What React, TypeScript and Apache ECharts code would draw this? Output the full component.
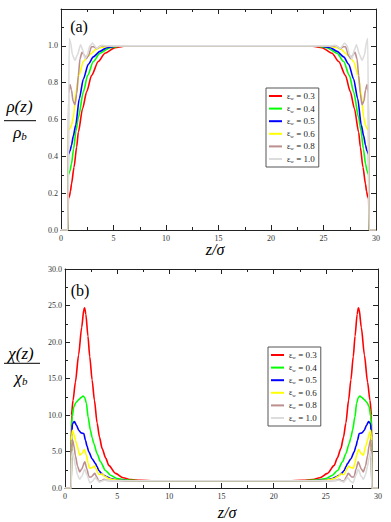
import React, { useEffect, useRef } from "react";
import * as echarts from "echarts";

const FONT = "'Liberation Serif', 'Times New Roman', Times, serif";

const legendNames = ["εw = 0.3", "εw = 0.4", "εw = 0.5", "εw = 0.6", "εw = 0.8", "εw = 1.0"];
const colors = ["#ff0000", "#00ff00", "#0000ff", "#ffff00", "#bc8f8f", "#dcdcdc"];

const xTickValues = [0, 5, 10, 15, 20, 25, 30];
const rhoTickLabels = ["0.0", "0.2", "0.4", "0.6", "0.8", "1.0"];
const chiTickLabels = ["0.0", "5.0", "10.0", "15.0", "20.0", "25.0", "30.0"];

// panel (a): rho(z)/rho_b, [z/sigma, value]
const rho03 = [[0,0],[0.66,0],[0.7,0.17],[0.79,0.18],[0.9,0.21],[1.0,0.25],[1.24,0.34],[1.49,0.45],[1.65,0.53],[2.06,0.66],[2.44,0.75],[2.92,0.84],[3.55,0.915],[4.19,0.96],[5.14,0.99],[6,0.998],[7,1.0],
  [23,1.0],[24,0.998],[24.86,0.99],[25.81,0.96],[26.45,0.915],[27.08,0.84],[27.56,0.75],[27.94,0.66],[28.35,0.53],[28.51,0.45],[28.76,0.34],[29.0,0.25],[29.1,0.21],[29.21,0.18],[29.3,0.17],[29.34,0],[30,0]];
const rho04 = [[0,0],[0.66,0],[0.7,0.30],[0.85,0.32],[1.0,0.36],[1.2,0.44],[1.43,0.54],[1.65,0.61],[2.13,0.75],[2.54,0.84],[3.08,0.915],[3.71,0.96],[4.67,0.99],[5.5,0.998],[6.5,1.0],
  [23.5,1.0],[24.5,0.998],[25.33,0.99],[26.29,0.96],[26.92,0.915],[27.46,0.84],[27.87,0.75],[28.35,0.61],[28.57,0.54],[28.8,0.44],[29.0,0.36],[29.15,0.32],[29.3,0.30],[29.34,0],[30,0]];
const rho05 = [[0,0],[0.66,0],[0.7,0.41],[0.86,0.43],[1.0,0.46],[1.17,0.51],[1.4,0.57],[1.75,0.715],[2.13,0.82],[2.6,0.90],[3.08,0.94],[3.71,0.97],[4.35,0.99],[5.2,0.998],[6,1.0],
  [24,1.0],[24.8,0.998],[25.65,0.99],[26.29,0.97],[26.92,0.94],[27.4,0.90],[27.87,0.82],[28.25,0.715],[28.6,0.57],[28.83,0.51],[29.0,0.46],[29.14,0.43],[29.3,0.41],[29.34,0],[30,0]];
const rho06 = [[0,0],[0.66,0],[0.7,0.54],[0.85,0.55],[1.0,0.57],[1.17,0.61],[1.43,0.75],[1.71,0.84],[2.13,0.915],[2.38,0.93],[2.6,0.945],[2.92,0.96],[3.3,0.98],[3.71,0.99],[4.5,0.998],[5.5,1.0],
  [24.5,1.0],[25.5,0.998],[26.29,0.99],[26.7,0.98],[27.08,0.96],[27.4,0.945],[27.62,0.93],[27.87,0.915],[28.29,0.84],[28.57,0.75],[28.83,0.61],[29.0,0.57],[29.15,0.55],[29.3,0.54],[29.34,0],[30,0]];
const rho08 = [[0,0],[0.66,0],[0.72,0.74],[0.85,0.79],[1.0,0.76],[1.15,0.70],[1.33,0.68],[1.5,0.74],[1.65,0.84],[1.81,0.93],[2.0,0.965],[2.2,0.95],[2.4,0.93],[2.6,0.945],[2.9,0.995],[3.1,0.995],[3.4,0.985],[3.8,1.0],[4.5,1.0],
  [25.5,1.0],[26.2,1.0],[26.6,0.985],[26.9,0.995],[27.1,0.995],[27.4,0.945],[27.6,0.93],[27.8,0.95],[28.0,0.965],[28.19,0.93],[28.35,0.84],[28.5,0.74],[28.67,0.68],[28.85,0.70],[29.0,0.76],[29.15,0.79],[29.28,0.74],[29.34,0],[30,0]];
const rho10 = [[0,0],[0.66,0],[0.78,1.04],[0.9,1.02],[1.1,0.95],[1.33,0.92],[1.55,0.95],[1.87,1.005],[2.05,0.98],[2.29,0.93],[2.5,0.95],[2.75,1.0],[3.0,1.015],[3.2,1.0],[3.4,0.985],[3.65,0.995],[3.9,1.003],[4.3,1.0],
  [25.7,1.0],[26.1,1.003],[26.35,0.995],[26.6,0.985],[26.8,1.0],[27.0,1.015],[27.25,1.0],[27.5,0.95],[27.71,0.93],[27.95,0.98],[28.13,1.005],[28.45,0.95],[28.67,0.92],[28.9,0.95],[29.1,1.02],[29.22,1.04],[29.34,0],[30,0]];

// panel (b): chi(z)/chi_b, [z/sigma, value]
const chi03 = [[0,0],[0.6,0],[0.62,10.0],[0.77,12.0],[1.0,14.5],[1.3,18.2],[1.6,22.0],[1.8,24.4],[1.88,24.7],[2.0,23.8],[2.2,20.8],[2.37,18.0],[2.6,14.8],[2.82,12.0],[3.08,8.9],[3.3,7.0],[3.56,5.4],[3.9,4.1],[4.2,3.1],[4.84,2.0],[5.57,1.4],[6.3,1.15],[7.2,1.05],[8.5,1.0],
  [21.5,1.0],[22.8,1.05],[23.7,1.15],[24.43,1.4],[25.16,2.0],[25.8,3.1],[26.1,4.1],[26.44,5.4],[26.7,7.0],[26.92,8.9],[27.18,12.0],[27.4,14.8],[27.63,18.0],[27.8,20.8],[28.0,23.8],[28.12,24.7],[28.2,24.4],[28.4,22.0],[28.7,18.2],[29.0,14.5],[29.23,12.0],[29.38,10.0],[29.4,0],[30,0]];
const chi04 = [[0,0],[0.6,0],[0.62,8.5],[0.7,9.8],[0.84,11.1],[1.05,11.7],[1.32,12.1],[1.55,12.4],[1.73,12.6],[1.89,12.4],[2.05,11.6],[2.21,9.75],[2.44,7.9],[2.6,6.9],[2.76,6.1],[3.08,4.7],[3.4,3.6],[3.88,2.4],[4.36,1.75],[5.0,1.3],[5.8,1.1],[7,1.0],
  [23,1.0],[24.2,1.1],[25.0,1.3],[25.64,1.75],[26.12,2.4],[26.6,3.6],[26.92,4.7],[27.24,6.1],[27.4,6.9],[27.56,7.9],[27.79,9.75],[27.95,11.6],[28.11,12.4],[28.27,12.6],[28.45,12.4],[28.68,12.1],[28.95,11.7],[29.16,11.1],[29.3,9.8],[29.38,8.5],[29.4,0],[30,0]];
const chi05 = [[0,0],[0.6,0],[0.62,7.0],[0.72,8.8],[0.9,9.1],[1.1,8.6],[1.32,7.9],[1.54,7.55],[1.8,7.45],[1.96,6.55],[2.12,5.7],[2.28,4.95],[2.6,4.0],[2.92,3.35],[3.08,2.9],[3.24,2.4],[3.5,2.0],[3.72,1.75],[4.0,1.55],[4.36,1.3],[5,1.1],[6,1.0],
  [24,1.0],[25,1.1],[25.64,1.3],[26.0,1.55],[26.28,1.75],[26.5,2.0],[26.76,2.4],[26.92,2.9],[27.08,3.35],[27.4,4.0],[27.72,4.95],[27.88,5.7],[28.04,6.55],[28.2,7.45],[28.46,7.55],[28.68,7.9],[28.9,8.6],[29.1,9.1],[29.28,8.8],[29.38,7.0],[29.4,0],[30,0]];
const chi06 = [[0,0],[0.6,0],[0.62,6.5],[0.7,7.9],[0.85,7.4],[1.0,6.55],[1.15,5.8],[1.41,4.5],[1.6,4.7],[1.86,5.3],[2.05,4.5],[2.21,3.4],[2.37,2.7],[2.6,2.8],[2.82,3.0],[3.0,2.6],[3.24,1.85],[3.4,1.85],[3.56,1.95],[3.8,1.6],[4.2,1.3],[4.6,1.15],[5.2,1.05],[6,1.0],
  [24,1.0],[24.8,1.05],[25.4,1.15],[25.8,1.3],[26.2,1.6],[26.44,1.95],[26.6,1.85],[26.76,1.85],[27.0,2.6],[27.18,3.0],[27.4,2.8],[27.63,2.7],[27.79,3.4],[27.95,4.5],[28.14,5.3],[28.4,4.7],[28.59,4.5],[28.85,5.8],[29.0,6.55],[29.15,7.4],[29.3,7.9],[29.38,6.5],[29.4,0],[30,0]];
const chi08 = [[0,0],[0.6,0],[0.62,5.5],[0.72,6.6],[0.85,5.8],[1.0,4.4],[1.2,3.0],[1.41,2.2],[1.6,2.6],[1.9,3.6],[2.1,2.6],[2.3,1.5],[2.5,1.5],[2.85,2.0],[3.05,1.5],[3.25,0.9],[3.5,1.0],[3.75,1.2],[4.0,1.05],[4.5,1.0],
  [25.5,1.0],[26.0,1.05],[26.25,1.2],[26.5,1.0],[26.75,0.9],[26.95,1.5],[27.15,2.0],[27.5,1.5],[27.7,1.5],[27.9,2.6],[28.1,3.6],[28.4,2.6],[28.59,2.2],[28.8,3.0],[29.0,4.4],[29.15,5.8],[29.28,6.6],[29.38,5.5],[29.4,0],[30,0]];
const chi10 = [[0,0],[0.6,0],[0.62,4.0],[0.72,5.0],[0.85,4.2],[1.0,3.0],[1.2,1.8],[1.4,1.2],[1.6,1.6],[1.9,2.6],[2.1,1.8],[2.4,0.7],[2.6,0.9],[2.9,1.4],[3.1,1.1],[3.3,0.8],[3.55,0.95],[3.8,1.1],[4.1,1.0],[4.6,1.0],
  [25.4,1.0],[25.9,1.0],[26.2,1.1],[26.45,0.95],[26.7,0.8],[26.9,1.1],[27.1,1.4],[27.4,0.9],[27.6,0.7],[27.9,1.8],[28.1,2.6],[28.4,1.6],[28.6,1.2],[28.8,1.8],[29.0,3.0],[29.15,4.2],[29.28,5.0],[29.38,4.0],[29.4,0],[30,0]];

const rhoSeries = [rho03, rho04, rho05, rho06, rho08, rho10];
const chiSeries = [chi03, chi04, chi05, chi06, chi08, chi10];

const AXIS_COLOR = "#222";

function xAxisDef(gridIndex: number, position: "top" | "bottom") {
  return {
    type: "value",
    gridIndex,
    position,
    min: 0,
    max: 30,
    interval: 5,
    axisLine: { show: true, onZero: false, lineStyle: { color: AXIS_COLOR, width: 1 } },
    axisTick: { show: true, inside: true, length: 5, lineStyle: { color: AXIS_COLOR, width: 1 } },
    minorTick: { show: true, splitNumber: 2, length: 3, lineStyle: { color: AXIS_COLOR, width: 1 } },
    splitLine: { show: false },
    axisLabel: {
      show: position === "bottom",
      fontFamily: FONT,
      fontSize: 8,
      color: "#333",
      margin: 4,
      formatter: (v: number) => (xTickValues.includes(v) ? String(v) : ""),
    },
  };
}

function yAxisDef(gridIndex: number, position: "left" | "right", max: number, interval: number, labels: string[]) {
  return {
    type: "value",
    gridIndex,
    position,
    min: 0,
    max,
    interval,
    axisLine: { show: true, onZero: false, lineStyle: { color: AXIS_COLOR, width: 1 } },
    axisTick: { show: true, inside: true, length: 5, lineStyle: { color: AXIS_COLOR, width: 1 } },
    minorTick: { show: true, splitNumber: 2, length: 3, lineStyle: { color: AXIS_COLOR, width: 1 } },
    splitLine: { show: false },
    axisLabel: {
      show: position === "left",
      fontFamily: FONT,
      fontSize: 8,
      color: "#333",
      margin: 3,
      formatter: (v: number) => {
        const idx = Math.round(v / interval);
        return labels[idx] ?? "";
      },
    },
  };
}

function legendDef(left: number, top: number) {
  return {
    orient: "vertical",
    left,
    top,
    data: legendNames,
    icon: "rect",
    itemWidth: 13,
    itemHeight: 2,
    itemGap: 2.6,
    padding: [3, 4, 3, 3],
    borderColor: "#555",
    borderWidth: 1,
    backgroundColor: "#fff",
    selectedMode: false,
    formatter: (name: string) => {
      const v = name.split("= ")[1];
      return `{e|ε}{s|w}{t| = ${v}}`;
    },
    textStyle: {
      fontFamily: FONT,
      fontSize: 9,
      color: "#222",
      lineHeight: 10,
      rich: {
        e: { fontFamily: FONT, fontSize: 8, color: "#222", lineHeight: 10 },
        s: { fontFamily: FONT, fontSize: 5, color: "#222", lineHeight: 5, verticalAlign: "bottom" },
        t: { fontFamily: FONT, fontSize: 9, color: "#222", lineHeight: 10 },
      },
    },
  };
}

function makeSeries(data: number[][][], axisIndex: number) {
  return data.map((d, i) => ({
    type: "line",
    name: legendNames[i],
    xAxisIndex: axisIndex,
    yAxisIndex: axisIndex,
    data: d,
    showSymbol: false,
    symbol: "none",
    smooth: 0.25,
    smoothMonotone: "x",
    lineStyle: { color: colors[i], width: 1.6 },
    itemStyle: { color: colors[i] },
    emphasis: { disabled: true },
  }));
}

function fracText(x: number, y: number, num: string, den: string, sub: string, lineY: number, x1: number, x2: number, denX: number, denY: number) {
  return [
    {
      type: "text",
      x,
      y,
      style: { text: num, font: `italic 17px ${FONT}`, fill: "#000", textAlign: "center", textVerticalAlign: "middle" },
    },
    {
      type: "line",
      shape: { x1, y1: lineY, x2, y2: lineY },
      style: { stroke: "#000", lineWidth: 1 },
    },
    {
      type: "text",
      x: denX,
      y: denY,
      style: {
        text: `{m|${den}}{s|${sub}}`,
        textAlign: "center",
        textVerticalAlign: "middle",
        rich: {
          m: { font: `italic 17px ${FONT}`, fill: "#000", lineHeight: 18 },
          s: { font: `italic 11px ${FONT}`, fill: "#000", lineHeight: 8, verticalAlign: "bottom" },
        },
      },
    },
  ];
}

export default function App() {
  const ref = useRef<HTMLDivElement>(null);
  useEffect(() => {
    if (!ref.current) return;
    const chart = echarts.init(ref.current, null, { renderer: "svg" });
    const option: any = {
      animation: false,
      backgroundColor: "#fff",
      grid: [
        { left: 61, top: 9, width: 315, height: 221 },
        { left: 65, top: 269, width: 313, height: 219 },
      ],
      xAxis: [xAxisDef(0, "bottom"), xAxisDef(0, "top"), xAxisDef(1, "bottom"), xAxisDef(1, "top")],
      yAxis: [
        yAxisDef(0, "left", 1.2, 0.2, rhoTickLabels),
        yAxisDef(0, "right", 1.2, 0.2, rhoTickLabels),
        yAxisDef(1, "left", 30, 5, chiTickLabels),
        yAxisDef(1, "right", 30, 5, chiTickLabels),
      ],
      legend: [legendDef(266, 88), legendDef(268, 347)],
      series: [...makeSeries(rhoSeries, 0), ...makeSeries(chiSeries, 2)],
      graphic: [
        { type: "text", x: 79, y: 26, style: { text: "(a)", font: `16px ${FONT}`, fill: "#000", textAlign: "center", textVerticalAlign: "middle" } },
        { type: "text", x: 80, y: 290, style: { text: "(b)", font: `16px ${FONT}`, fill: "#000", textAlign: "center", textVerticalAlign: "middle" } },
        ...fracText(19.5, 106, "ρ(z)", "ρ", "b", 120.7, 4, 36, 20, 132),
        ...fracText(21, 353, "χ(z)", "χ", "b", 363.3, 4, 40, 21, 377),
        { type: "text", x: 215, y: 249.5, style: { text: "z/σ", font: `italic 16px ${FONT}`, fill: "#000", textAlign: "center", textVerticalAlign: "middle" } },
        { type: "text", x: 227, y: 512, style: { text: "z/σ", font: `italic 16px ${FONT}`, fill: "#000", textAlign: "center", textVerticalAlign: "middle" } },
      ],
    };
    chart.setOption(option);
    return () => chart.dispose();
  }, []);
  return <div ref={ref} style={{ position: "absolute", left: 0, top: 0, width: 391, height: 522 }} />;
}
